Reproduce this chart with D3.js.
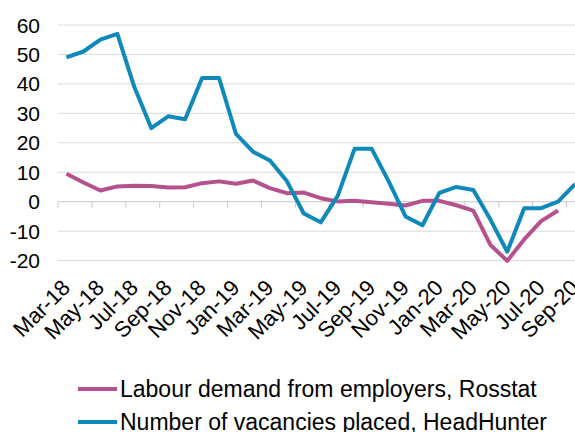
<!DOCTYPE html>
<html>
<head>
<meta charset="utf-8">
<script src="https://cdn.jsdelivr.net/npm/d3@7"></script>
<style>
  body { margin: 0; background: #fff; overflow: hidden; }
  svg { display: block; font-family: "Liberation Sans", Arial, sans-serif; }
</style>
</head>
<body>
<svg id="chart" width="575" height="432"></svg>
<script>
var months = ["Mar-18","Apr-18","May-18","Jun-18","Jul-18","Aug-18","Sep-18","Oct-18","Nov-18","Dec-18",
  "Jan-19","Feb-19","Mar-19","Apr-19","May-19","Jun-19","Jul-19","Aug-19","Sep-19","Oct-19","Nov-19","Dec-19",
  "Jan-20","Feb-20","Mar-20","Apr-20","May-20","Jun-20","Jul-20","Aug-20","Sep-20"];

// Labour demand from employers, Rosstat (ends Aug-20)
var rosstat = [9.5, 6.5, 3.8, 5.2, 5.4, 5.3, 4.8, 4.9, 6.3, 6.9,
  6.1, 7.2, 4.6, 2.9, 3.1, 1.2, 0.1, 0.3, -0.2, -0.7, -1.3, 0.3,
  0.3, -1.2, -3, -14.6, -20.1, -12.8, -6.6, -3];

// Number of vacancies placed, HeadHunter
var headhunter = [49, 51, 55, 57, 39, 25, 29, 28, 42, 42,
  23, 17, 14, 7, -4, -7, 2, 18, 18, 7, -5, -8,
  3, 5, 4, -6, -17, -2.2, -2.2, 0, 6];

var yTicks = [-20, -10, 0, 10, 20, 30, 40, 50, 60];

var seriesNames = ["Labour demand from employers, Rosstat", "Number of vacancies placed, HeadHunter"];
var colors = ["#b5528e", "#0f89bb"];

var svg = d3.select("#chart");
var left = 58, right = 583.5;

var x = d3.scaleBand().domain(months).range([left, right]);
var y = d3.scaleLinear().domain([0, 60]).range([201.7, 25]);

// gridlines
svg.append("g").selectAll("line")
  .data(yTicks.filter(function(d) { return d !== 0; }))
  .enter().append("line")
    .attr("x1", left).attr("x2", right)
    .attr("y1", function(d) { return y(d); })
    .attr("y2", function(d) { return y(d); })
    .attr("stroke", "#d9d9d9").attr("stroke-width", 1);

// y labels
svg.append("g").selectAll("text")
  .data(yTicks)
  .enter().append("text")
    .attr("x", 40)
    .attr("y", function(d) { return y(d); })
    .attr("dy", "0.36em")
    .attr("text-anchor", "end")
    .style("font-size", "21px")
    .text(function(d) { return d; });

// zero axis with ticks
svg.append("line")
  .attr("x1", left).attr("x2", right)
  .attr("y1", y(0)).attr("y2", y(0))
  .attr("stroke", "#c8c8c8").attr("stroke-width", 1);

var tickMonths = months.filter(function(d, i) { return i % 2 === 0; });
svg.append("g").selectAll("line")
  .data(tickMonths)
  .enter().append("line")
    .attr("x1", function(d) { return x(d); })
    .attr("x2", function(d) { return x(d); })
    .attr("y1", y(0)).attr("y2", y(0) + 6)
    .attr("stroke", "#c8c8c8").attr("stroke-width", 1);

// x labels
svg.append("g").selectAll("text")
  .data(tickMonths)
  .enter().append("text")
    .attr("transform", function(d) {
      return "translate(" + (x(d) + x.bandwidth() / 2 + 5) + ",289) rotate(-45)";
    })
    .attr("text-anchor", "end")
    .style("font-size", "22px")
    .text(function(d) { return d; });

// lines
var line = d3.line()
  .x(function(d, i) { return x(months[i]) + x.bandwidth() / 2; })
  .y(function(d) { return y(d); });

[rosstat, headhunter].forEach(function(s, k) {
  svg.append("path")
    .datum(s)
    .attr("d", line)
    .attr("fill", "none")
    .attr("stroke", colors[k])
    .attr("stroke-width", 4)
    .attr("stroke-linejoin", "round");
});

// legend
var legend = svg.append("g").selectAll("g")
  .data(seriesNames)
  .enter().append("g")
    .attr("transform", function(d, i) { return "translate(78," + (389 + i * 33) + ")"; });

legend.append("line")
  .attr("x1", 0).attr("x2", 39)
  .attr("stroke", function(d, i) { return colors[i]; })
  .attr("stroke-width", 4);

legend.append("text")
  .attr("x", 42)
  .attr("dy", "0.36em")
  .style("font-size", "23px")
  .text(function(d) { return d; });
</script>
</body>
</html>
